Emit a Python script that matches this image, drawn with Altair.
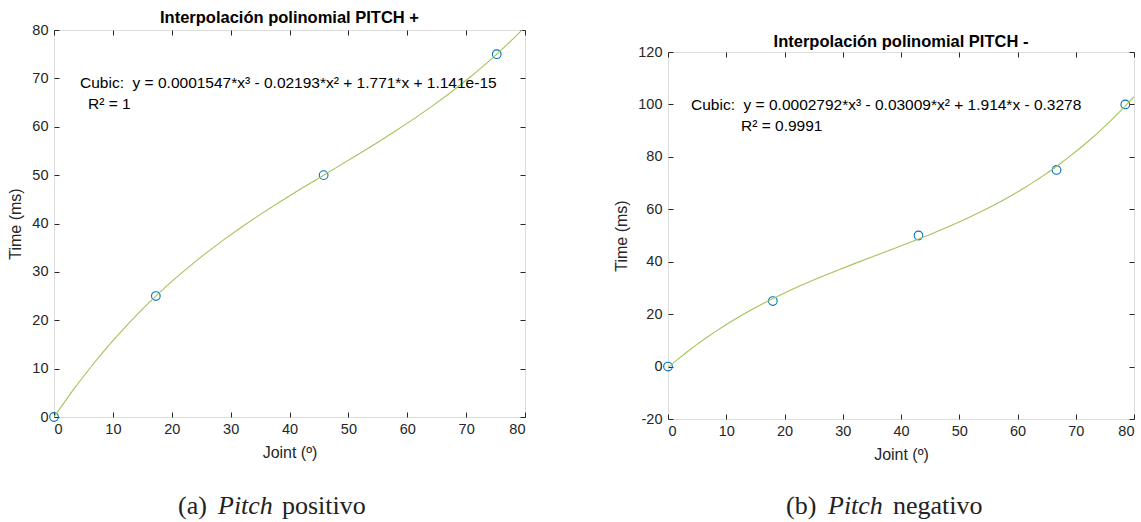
import altair as alt
import pandas as pd

# ---------------- data ----------------
pos_joint = [0, 17.3, 45.8, 75.2]
pos_time = [0, 25, 50, 75]
neg_joint = [0, 18, 43, 66.7, 78.5]
neg_time = [0, 25, 50, 75, 100]

x_ticks = [0, 10, 20, 30, 40, 50, 60, 70, 80]
y_ticks_pos = [0, 10, 20, 30, 40, 50, 60, 70, 80]
y_ticks_neg = [-20, 0, 20, 40, 60, 80, 100, 120]
x_domain = [0, 80]
y_domain_pos = [0, 80]
y_domain_neg = [-20, 120]

titles = ["Interpolación polinomial PITCH +", "Interpolación polinomial PITCH -"]
fit_texts = ["Cubic:\u00a0 y = 0.0001547*x³ - 0.02193*x² + 1.771*x + 1.141e-15",
             "Cubic:\u00a0 y = 0.0002792*x³ - 0.03009*x² + 1.914*x - 0.3278"]
r2_texts = ["R² = 1", "R² = 0.9991"]
cap_labels = ["(a)", "(b)"]
cap_italic = ["Pitch", "Pitch"]
cap_words = ["positivo", "negativo"]
x_title = "Joint (º)"
y_title = "Time (ms)"

# ---------------- style ----------------
DARK = "#262626"
BLUE = "#0072BD"
GREEN = "#A4C35A"
FONT = "Liberation Sans"
SERIF = "Liberation Serif"

one = pd.DataFrame({"k": [0]})


def txt(s, x, y, align="left", **kw):
    return alt.Chart(one).mark_text(align=align, baseline="alphabetic", **kw).encode(
        x=alt.value(x), y=alt.value(y), text=alt.value(s))


def anchor(x, y):
    return alt.Chart(one).mark_rule(opacity=0, color="white", strokeWidth=0.01).encode(
        x=alt.value(x), x2=alt.value(x), y=alt.value(y), y2=alt.value(y + 1))


def panel(xs, ys, ydom, yticks, i, W, H, ann, cap, anchors, title_y):
    df = pd.DataFrame({"joint": xs, "time": ys})
    base = alt.Chart(df)
    xsc = alt.Scale(domain=x_domain, nice=False, zero=False)
    ysc = alt.Scale(domain=ydom, nice=False, zero=False)
    common = dict(tickSize=5, offset=-5, domain=False, grid=False, tickColor=DARK,
                  tickWidth=1, labelFont=FONT, labelFontSize=14.5, labelColor=DARK,
                  titleFont=FONT, titleFontSize=16, titleColor=DARK,
                  titleFontWeight="normal", labelExpr="'' + datum.value")
    xb = alt.Axis(orient="bottom", values=x_ticks, title=x_title, labelPadding=5,
                  titlePadding=9, **common)
    yl = alt.Axis(orient="left", values=yticks, title=y_title, labelPadding=6,
                  titlePadding=8, **common)
    xt = alt.Axis(orient="top", values=x_ticks, labels=False, title=None, **common)
    yr = alt.Axis(orient="right", values=yticks, labels=False, title=None, **common)

    curve = base.transform_regression(
        "joint", "time", method="poly", order=3, extent=x_domain
    ).mark_line(color=GREEN, strokeWidth=1.1, clip=True).encode(
        x=alt.X("joint:Q", scale=xsc, axis=xt),
        y=alt.Y("time:Q", scale=ysc, axis=yr))
    pts = base.mark_point(shape="circle", filled=False, size=75, strokeWidth=1.1,
                          color=BLUE, opacity=1, clip=False).encode(
        x=alt.X("joint:Q", scale=xsc, axis=xb),
        y=alt.Y("time:Q", scale=ysc, axis=yl))

    fs = 15.5
    ttl = txt(titles[i], W / 2, title_y, align="center", font=FONT, fontSize=16.5,
              fontWeight="bold", color="black")
    t1 = txt(fit_texts[i], ann[0], ann[1], font=FONT, fontSize=fs, color="black")
    t2 = txt(r2_texts[i], ann[2], ann[3], font=FONT, fontSize=fs, color="black")
    c1 = txt(cap_labels[i], cap[0], cap[3], font=SERIF, fontSize=26, color="#222")
    c2 = txt(cap_italic[i], cap[1], cap[3], font=SERIF, fontSize=26, fontStyle="italic", color="#222")
    c3 = txt(cap_words[i], cap[2], cap[3], font=SERIF, fontSize=26, color="#222")
    layers = [pts, curve, ttl, t1, t2, c1, c2, c3] + [anchor(a, b) for a, b in anchors]
    return alt.layer(*layers).resolve_axis(x="independent", y="independent").properties(
        width=W, height=H)


WL, HL = 471, 387
WR, HR = 466, 367
left = panel(pos_joint, pos_time, y_domain_pos, y_ticks_pos, 0, WL, HL,
             ann=(26, 58, 34, 79), cap=(124, 164, 228, 484),
             anchors=[(-53, -29), (WL + 30, 0)], title_y=-7)
right = panel(neg_joint, neg_time, y_domain_neg, y_ticks_neg, 1, WR, HR,
              ann=(23, 58, 73, 79), cap=(118, 160, 225, 462),
              anchors=[(-80, -16)], title_y=-5)

spacer = alt.Chart(one).mark_rule(opacity=0, color="white").encode(
    x=alt.value(0), x2=alt.value(1), y=alt.value(0), y2=alt.value(1)
).properties(width=1, height=2, view=alt.ViewBackground(stroke="transparent"))

chart = alt.hconcat(left, alt.vconcat(spacer, right, spacing=0), spacing=31).properties(
    padding=0).configure_view(stroke=DARK, strokeWidth=1).configure(background="white")

chart.save("out.html", embed_options={"renderer": "svg", "actions": False})
